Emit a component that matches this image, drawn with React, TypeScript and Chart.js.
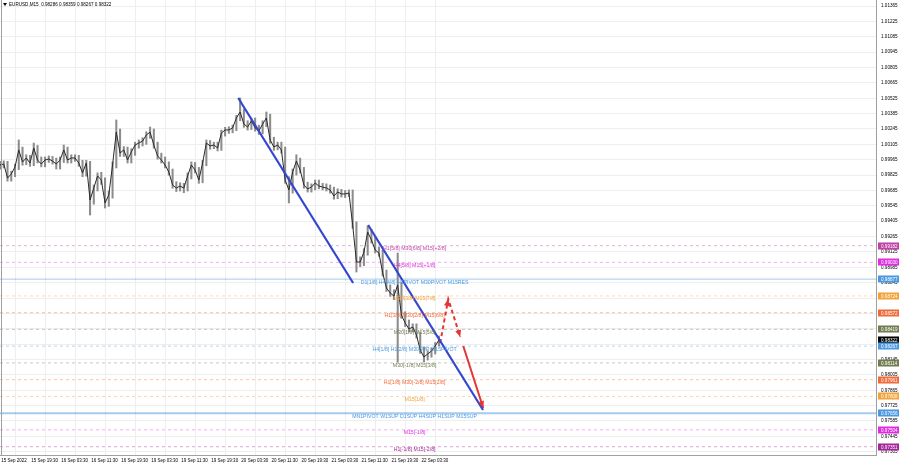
import React, { useEffect, useRef } from 'react';
import { Chart, registerables } from 'chart.js';

Chart.register(...registerables);

// ---------- data ----------
const chartTitle = 'EURUSD,M15  0.98286 0.98359 0.98267 0.98322';

// hourly samples (every 4 M15 bars) starting 15 Sep 11:30
const closes = [
  0.99917, 0.99926, 0.99798, 0.99835, 0.99899, 1.00054, 0.99944, 0.99981, 0.99935, 1.00072,
  0.99962, 0.99926, 0.99962, 0.99972, 0.99953, 0.99926, 0.99962, 1.00054, 0.99962, 0.99981,
  0.99981, 0.99935, 0.99844, 0.99935, 0.99598, 0.99707, 0.99817, 0.9978, 0.99571, 0.99644,
  0.99917, 1.00217, 1.00026, 1.00054, 0.99962, 1.00036, 1.00099, 1.00117, 1.00135, 1.0019,
  1.00217, 1.00099, 0.99999, 0.99962, 0.99917, 0.99853, 0.99735, 0.99707, 0.99725, 0.99707,
  0.99817, 0.99917, 0.99871, 0.9978, 0.99935, 1.00117, 1.0009, 1.00099, 1.00072, 1.00208,
  1.00236, 1.00236, 1.00254, 1.00345, 1.004, 1.0029, 1.00263, 1.00318, 1.00254, 1.00227,
  1.0029, 1.00345, 1.00145, 1.00081, 1.00099, 1.00054, 0.9978, 0.99689, 0.99853, 0.99953,
  0.99871, 0.99735, 0.99698, 0.99716, 0.99753, 0.99725, 0.99716, 0.99707, 0.99689, 0.99634,
  0.99671, 0.99653, 0.99653, 0.99662, 0.9937, 0.99033, 0.99033, 0.99124, 0.99306, 0.99234,
  0.99143, 0.99115, 0.98933, 0.98796, 0.98751, 0.98723, 0.98824, 0.9855, 0.98477, 0.98423,
  0.98441, 0.98368, 0.98232, 0.98168, 0.98195, 0.98222, 0.98268, 0.98323,
];
const highs = [
  0.9995, 0.99955, 0.9995, 0.9986, 0.99925, 1.00145, 1.0008, 1.0001, 1.00005, 1.00117,
  1.00095, 0.9999, 0.9999, 1.0, 0.99995, 0.9998, 0.9999, 1.00099, 1.0008, 1.0001,
  1.0001, 1.00005, 0.9996, 0.9996, 0.9995, 0.99735, 0.99845, 0.9985, 0.998, 0.9968,
  0.99945, 1.00327, 1.00245, 1.00085, 1.0008, 1.00065, 1.00125, 1.00145, 1.00165, 1.0022,
  1.00263, 1.00245, 1.00125, 1.00025, 0.9999, 0.99945, 0.9988, 0.99765, 0.99755, 0.9975,
  0.99845, 0.99945, 0.9994, 0.99895, 0.9996, 1.00145, 1.0014, 1.00125, 1.00125, 1.00235,
  1.0026, 1.00265, 1.0028, 1.0037, 1.00527, 1.00425, 1.0032, 1.00345, 1.00345, 1.0028,
  1.0032, 1.004, 1.0038, 1.0017, 1.00125, 1.00125, 1.0008, 0.9981, 0.9988, 1.0001,
  0.9998, 0.99895, 0.9976, 0.99745, 0.9978, 0.9978, 0.9975, 0.99745, 0.99735, 0.99715,
  0.997, 0.99695, 0.99685, 0.9969, 0.9969, 0.994, 0.9908, 0.99155, 0.99361, 0.9933,
  0.9926, 0.9917, 0.9914, 0.9896, 0.98825, 0.9878, 0.99115, 0.9885, 0.9858, 0.98505,
  0.9847, 0.9847, 0.98395, 0.9826, 0.98225, 0.9825, 0.983, 0.98359,
];
const lows = [
  0.9988, 0.9989, 0.9977, 0.9977, 0.9981, 0.99875, 0.99915, 0.9992, 0.99905, 0.9991,
  0.99935, 0.999, 0.999, 0.9994, 0.99925, 0.9988, 0.9988, 0.9994, 0.99935, 0.99935,
  0.9995, 0.99905, 0.9981, 0.99815, 0.99461, 0.9956, 0.9968, 0.9974, 0.99525, 0.9954,
  0.99615, 0.9989, 0.99995, 0.99995, 0.99935, 0.99935, 1.00005, 1.0007, 1.0009, 1.00105,
  1.0016, 1.0007, 0.9997, 0.99935, 0.9989, 0.99825, 0.99705, 0.99675, 0.9968, 0.99665,
  0.9968, 0.9979, 0.99845, 0.9975, 0.99755, 0.9991, 1.0006, 1.00065, 1.00045, 1.0005,
  1.0018, 1.00205, 1.0021, 1.0023, 1.0032, 1.0026, 1.00235, 1.0024, 1.00225, 1.00195,
  1.002, 1.00265, 1.00115, 1.0005, 1.00055, 1.00025, 0.9975, 0.99571, 0.9966, 0.99825,
  0.99845, 0.99705, 0.9967, 0.9967, 0.9969, 0.997, 0.9969, 0.9968, 0.9966, 0.99605,
  0.9961, 0.99625, 0.9962, 0.9963, 0.9934, 0.98942, 0.9899, 0.99, 0.99095, 0.99205,
  0.99115, 0.99085, 0.98905, 0.98765, 0.9872, 0.9869, 0.98122, 0.9852, 0.98445, 0.98395,
  0.98395, 0.9834, 0.982, 0.98122, 0.9814, 0.98165, 0.98195, 0.98267,
];
const barsPerSample = 4;

// time axis (M15 bar index of each label)
const timeTickBars = [0, 32, 64, 96, 128, 160, 192, 224, 256, 288, 320, 352, 384, 416, 448];
const timeTickLabels = [
  '15 Sep 2022', '15 Sep 19:30', '16 Sep 03:30', '16 Sep 11:30', '16 Sep 19:30',
  '19 Sep 03:30', '19 Sep 11:30', '19 Sep 19:30', '20 Sep 03:30', '20 Sep 11:30',
  '20 Sep 19:30', '21 Sep 03:30', '21 Sep 11:30', '21 Sep 19:30', '22 Sep 03:30',
];

// price axis ticks
const priceTicks = [
  1.01365, 1.01225, 1.01085, 1.00945, 1.00805, 1.00665, 1.00525, 1.00385, 1.00245, 1.00105,
  0.99965, 0.99825, 0.99685, 0.99545, 0.99405, 0.99265, 0.99125, 0.98985, 0.98845, 0.98705,
  0.98565, 0.98425, 0.98285, 0.98145, 0.98005, 0.97865, 0.97725, 0.97585, 0.97445, 0.97305,
];
const priceMin = 0.97275;
const priceMax = 1.0142;
const barMax = 935;

// Murrey levels
const levelPrices = [0.99182, 0.9903, 0.98877, 0.98724, 0.98572, 0.98419, 0.98267, 0.98114, 0.97961, 0.97808, 0.97656, 0.97504, 0.97351];
const levelTexts = [
  'H1[5/8] M30[6/8] M15[+2/8]',
  'H4[5/8] M15[+1/8]',
  'D1[1/8] H4[4/8] H1PIVOT M30PIVOT M15RES',
  'M30[3/8] M15[7/8]',
  'H1[3/8] M30[2/8] M15[6/8]',
  'M30[1/8] M15[5/8]',
  'H4[1/8] H1[2/8] M30SUP M15PIVOT',
  'M30[-1/8] M15[3/8]',
  'H1[1/8] M30[-2/8] M15[2/8]',
  'M15[1/8]',
  'MN1PIVOT W1SUP D1SUP H4SUP H1SUP M15SUP',
  'M15[-1/8]',
  'H1[-1/8] M15[-2/8]',
];
const levelColors = ['#c23fa6', '#e12de1', '#4a98e0', '#f2a23a', '#ef6a3a', '#6f7d4f', '#4a98e0', '#6f7d4f', '#ef6a3a', '#f2a23a', '#4a98e0', '#e12de1', '#a3279a'];
const levelSolid = [false, false, true, false, false, false, false, false, false, false, true, false, false];
const levelWidths = [1, 1, 1, 1, 1, 1, 1, 1, 1, 1, 2, 1, 1];
const levelLabelBar = 442;
const currentPrice = 0.98322;

// drawn trend lines (bar index, price)
const trendABars = [254, 376.5];
const trendAPrices = [1.00527, 0.98842];
const trendBBars = [392.5, 515];
const trendBPrices = [0.9937, 0.97685];
const forecastDashBars = [469.3, 477.9, 490.7];
const forecastDashPrices = [0.98295, 0.98696, 0.9835];
const forecastSolidBars = [493.9, 515.2];
const forecastSolidPrices = [0.98268, 0.97703];

const FONT = '"Liberation Sans", Arial, sans-serif';

function pairs(xs: number[], ys: number[]) {
  return xs.map((x, i) => ({ x, y: ys[i] }));
}

function hexA(hex: string, a: number) {
  const n = parseInt(hex.slice(1), 16);
  return `rgba(${(n >> 16) & 255},${(n >> 8) & 255},${n & 255},${a})`;
}

export default function App() {
  const ref = useRef<HTMLCanvasElement | null>(null);

  useEffect(() => {
    if (!ref.current) return;

    const rangeData = highs.map((h, i) => ({ x: i * barsPerSample, y: [lows[i], h] }));
    const closeData = closes.map((c, i) => ({ x: i * barsPerSample, y: c }));

    const levelDatasets = levelPrices.map((p, i) => ({
      type: 'line' as const,
      data: [{ x: 0, y: p }, { x: barMax, y: p }],
      borderColor: levelSolid[i] ? hexA(levelColors[i], 0.5) : hexA(levelColors[i], 0.4),
      borderWidth: levelWidths[i],
      borderDash: levelSolid[i] ? [] : [3, 3],
      pointRadius: 0,
      order: 5,
    }));

    const arrowPlugin = {
      id: 'overlay',
      beforeDraw(chart: any) {
        const ctx = chart.ctx;
        ctx.save();
        ctx.fillStyle = '#ffffff';
        ctx.fillRect(0, 0, chart.width, chart.height);
        ctx.restore();
      },
      afterDatasetsDraw(chart: any) {
        const ctx = chart.ctx;
        const xs = chart.scales.x;
        const ys = chart.scales.y;
        const ca = chart.chartArea;
        ctx.save();
        const head = (x0: number, y0: number, x1: number, y1: number, color: string) => {
          const px0 = xs.getPixelForValue(x0), py0 = ys.getPixelForValue(y0);
          const px1 = xs.getPixelForValue(x1), py1 = ys.getPixelForValue(y1);
          const ang = Math.atan2(py1 - py0, px1 - px0);
          const L = 7, W = 3;
          ctx.fillStyle = color;
          ctx.beginPath();
          ctx.moveTo(px1, py1);
          ctx.lineTo(px1 - L * Math.cos(ang) + W * Math.sin(ang), py1 - L * Math.sin(ang) - W * Math.cos(ang));
          ctx.lineTo(px1 - L * Math.cos(ang) - W * Math.sin(ang), py1 - L * Math.sin(ang) + W * Math.cos(ang));
          ctx.closePath();
          ctx.fill();
        };
        head(forecastDashBars[0], forecastDashPrices[0], forecastDashBars[1], forecastDashPrices[1], '#e53535');
        head(forecastDashBars[1], forecastDashPrices[1], forecastDashBars[2], forecastDashPrices[2], '#e53535');
        head(forecastSolidBars[0], forecastSolidPrices[0], forecastSolidBars[1], forecastSolidPrices[1], '#e53535');

        ctx.font = `5.2px ${FONT}`;
        ctx.textAlign = 'center';
        ctx.textBaseline = 'middle';
        const lx = xs.getPixelForValue(levelLabelBar);
        levelPrices.forEach((p, i) => {
          ctx.fillStyle = levelColors[i];
          ctx.fillText(levelTexts[i], lx, ys.getPixelForValue(p) + 3);
        });

        ctx.strokeStyle = '#a0a0a0';
        ctx.lineWidth = 1;
        ctx.beginPath();
        ctx.moveTo(ca.left + 1.5, ca.top);
        ctx.lineTo(ca.left + 1.5, ca.bottom);
        ctx.moveTo(ca.right - 0.5, ca.top);
        ctx.lineTo(ca.right - 0.5, ca.bottom);
        ctx.moveTo(ca.left, ca.bottom + 0.5);
        ctx.lineTo(ca.right, ca.bottom + 0.5);
        ctx.stroke();
        ctx.restore();
      },
      afterDraw(chart: any) {
        const ctx = chart.ctx;
        const ys = chart.scales.y;
        const ca = chart.chartArea;
        ctx.save();
        const boxes = levelPrices.map((p, i) => ({ p, c: levelColors[i] }));
        boxes.splice(6, 0, { p: currentPrice, c: '#000000' });
        ctx.font = `4.6px ${FONT}`;
        ctx.textBaseline = 'middle';
        ctx.textAlign = 'left';
        boxes.forEach((b) => {
          const y = Math.round(ys.getPixelForValue(b.p));
          ctx.fillStyle = b.c;
          ctx.fillRect(ca.right + 1, y - 3.5, 21, 7);
          ctx.fillStyle = '#ffffff';
          ctx.fillText(b.p.toFixed(5), ca.right + 4, y + 0.3);
        });
        ctx.fillStyle = '#000';
        ctx.beginPath();
        ctx.moveTo(3, 3);
        ctx.lineTo(7, 3);
        ctx.lineTo(5, 6);
        ctx.closePath();
        ctx.fill();
        ctx.font = `4.6px ${FONT}`;
        ctx.fillText(chartTitle, 9, 5);
        ctx.restore();
      },
    };

    const chart = new Chart(ref.current, {
      type: 'bar',
      data: {
        datasets: [
          {
            type: 'line',
            data: pairs(trendABars, trendAPrices),
            borderColor: '#3346cf',
            borderWidth: 2.2,
            pointRadius: 0,
            order: 0,
          } as any,
          {
            type: 'line',
            data: pairs(trendBBars, trendBPrices),
            borderColor: '#3346cf',
            borderWidth: 2.2,
            pointRadius: 0,
            order: 0,
          },
          {
            type: 'line',
            data: pairs(forecastDashBars, forecastDashPrices),
            borderColor: '#e53535',
            borderWidth: 2,
            borderDash: [4, 3],
            pointRadius: 0,
            order: 0,
          },
          {
            type: 'line',
            data: pairs(forecastSolidBars, forecastSolidPrices),
            borderColor: '#e53535',
            borderWidth: 2,
            pointRadius: 0,
            order: 0,
          },
          {
            type: 'line',
            data: closeData,
            borderColor: '#2a2a2a',
            borderWidth: 1,
            pointRadius: 0,
            order: 2,
          },
          {
            type: 'bar',
            data: rangeData,
            backgroundColor: '#8c8c8c',
            barThickness: 1.4,
            order: 3,
          },
          ...levelDatasets,
        ] as any,
      },
      options: {
        animation: false,
        responsive: false,
        maintainAspectRatio: false,
        events: [],
        layout: { padding: 0 },
        plugins: { legend: { display: false }, tooltip: { enabled: false }, title: { display: false } },
        scales: {
          x: {
            type: 'linear',
            min: 0,
            max: barMax,
            offset: false,
            grid: { color: '#eeeeee', drawTicks: false },
            border: { display: false },
            ticks: {
              autoSkip: false,
              maxRotation: 0,
              align: 'start',
              padding: 3,
              color: '#000',
              font: { family: FONT, size: 4.5 },
              callback: (v: any) => {
                const i = timeTickBars.indexOf(Number(v));
                return i >= 0 ? ' ' + timeTickLabels[i] : '';
              },
            },
            afterBuildTicks: (s: any) => {
              s.ticks = timeTickBars.map((v) => ({ value: v }));
            },
            afterFit: (s: any) => {
              s.height = 13;
              s.paddingLeft = 0;
              s.paddingRight = 0;
            },
          } as any,
          y: {
            type: 'linear',
            position: 'right',
            min: priceMin,
            max: priceMax,
            grid: { color: '#eeeeee', drawTicks: false },
            border: { display: false },
            ticks: {
              padding: 4,
              color: '#000',
              font: { family: FONT, size: 4.6 },
              callback: (v: any) => Number(v).toFixed(5),
            },
            afterBuildTicks: (s: any) => {
              s.ticks = priceTicks.map((v) => ({ value: v }));
            },
            afterFit: (s: any) => {
              s.width = 23;
              s.paddingTop = 0;
              s.paddingBottom = 0;
            },
          } as any,
        },
      },
      plugins: [arrowPlugin],
    });

    return () => chart.destroy();
  }, []);

  return (
    <div style={{ position: 'absolute', left: 0, top: 0, width: 900, height: 468, background: '#fff' }}>
      <canvas ref={ref} width={900} height={468} style={{ display: 'block', width: 900, height: 468 }} />
    </div>
  );
}
